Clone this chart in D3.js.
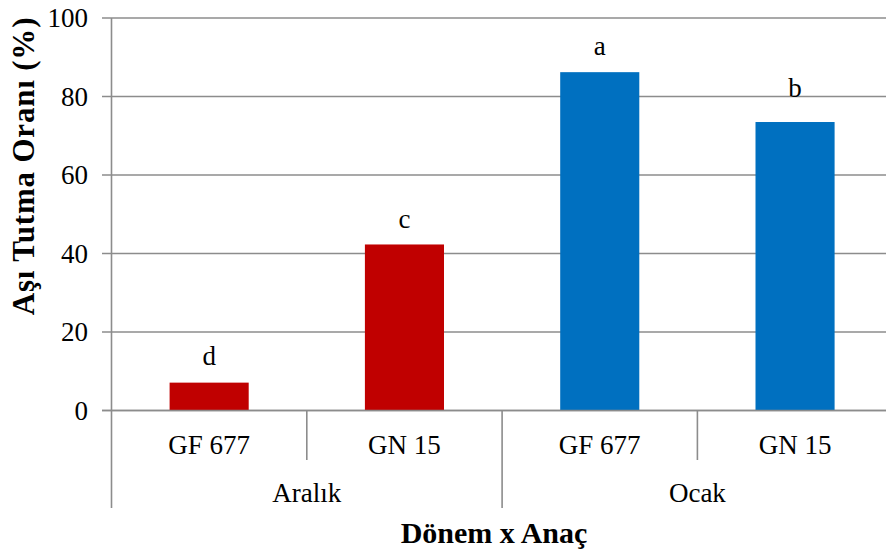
<!DOCTYPE html>
<html><head><meta charset="utf-8">
<script src="https://cdn.jsdelivr.net/npm/d3@7"></script>
<style>body{margin:0;background:#fff}svg{display:block}</style>
</head><body>
<svg id="c" width="886" height="550" font-family="'Liberation Serif', 'DejaVu Serif', serif"></svg>
<script>
const periods = ["Aralık", "Ocak"];
const rootstocks = ["GF 677", "GN 15"];
const categories = ["Aralık|GF 677", "Aralık|GN 15", "Ocak|GF 677", "Ocak|GN 15"];
const values = [7.1, 42.3, 86.2, 73.5];
const letters = ["d", "c", "a", "b"];
const yTicks = [0, 20, 40, 60, 80, 100];
const yTitle = "Aşı Tutma  Oranı (%)";
const xTitle = "Dönem x Anaç";

const colors = {"Aralık": "#C00000", "Ocak": "#0070C0"};
const labelGap = [18, 16, 17, 25];
const gridColor = "#8c8c8c";

const svg = d3.select("#c");
const left = 111.5, right = 892.7, y0 = 410.5, y1 = 18;
const x = d3.scaleBand().domain(categories).range([left, right]).padding(0);
const y = d3.scaleLinear().domain([0, 100]).range([y0, y1]);
const bw = x.bandwidth() * 0.405;

svg.append("g").selectAll("line").data(yTicks).join("line")
  .attr("x1", left - 9.5).attr("x2", 886).attr("y1", d => y(d)).attr("y2", d => y(d))
  .attr("stroke", gridColor).attr("stroke-width", 1.6);
svg.append("g").selectAll("text").data(yTicks).join("text")
  .attr("x", 88).attr("y", d => y(d)).attr("text-anchor", "end").attr("dominant-baseline", "central")
  .attr("font-size", 27).text(d => d);

svg.append("g").selectAll("rect").data(values).join("rect")
  .attr("x", (d, i) => x(categories[i]) + (x.bandwidth() - bw) / 2)
  .attr("width", bw)
  .attr("y", d => y(d)).attr("height", d => y(0) - y(d))
  .attr("fill", (d, i) => colors[categories[i].split("|")[0]]);

svg.append("g").selectAll("text").data(values).join("text")
  .attr("x", (d, i) => x(categories[i]) + x.bandwidth() / 2)
  .attr("y", (d, i) => y(d) - labelGap[i])
  .attr("text-anchor", "middle").attr("font-size", 27).text((d, i) => letters[i]);

svg.append("line").attr("x1", left - 9.5).attr("x2", 886).attr("y1", y0).attr("y2", y0)
  .attr("stroke", gridColor).attr("stroke-width", 1.6);
svg.append("line").attr("x1", left).attr("x2", left).attr("y1", y1).attr("y2", 508)
  .attr("stroke", gridColor).attr("stroke-width", 1.6);

const seps = d3.range(categories.length + 1);
svg.append("g").selectAll("line").data(seps.slice(1)).join("line")
  .attr("x1", i => left + i * x.step()).attr("x2", i => left + i * x.step())
  .attr("y1", y0).attr("y2", i => (i % 2 === 0 ? 508 : 460))
  .attr("stroke", gridColor).attr("stroke-width", 1.6);

svg.append("g").selectAll("text").data(categories).join("text")
  .attr("x", d => x(d) + x.bandwidth() / 2).attr("y", 454)
  .attr("text-anchor", "middle").attr("font-size", 27).text(d => d.split("|")[1]);

svg.append("g").selectAll("text").data(periods).join("text")
  .attr("x", (d, i) => left + (2 * i + 1) * x.step()).attr("y", 502)
  .attr("text-anchor", "middle").attr("font-size", 27).text(d => d);

svg.append("text").attr("x", 494).attr("y", 543).attr("text-anchor", "middle")
  .attr("font-size", 30).attr("font-weight", "bold").text(xTitle);
svg.append("text").attr("transform", "translate(34,166) rotate(-90)").attr("text-anchor", "middle")
  .attr("font-size", 31).attr("font-weight", "bold").attr("letter-spacing", 0.8).text(yTitle);
</script>
</body></html>
